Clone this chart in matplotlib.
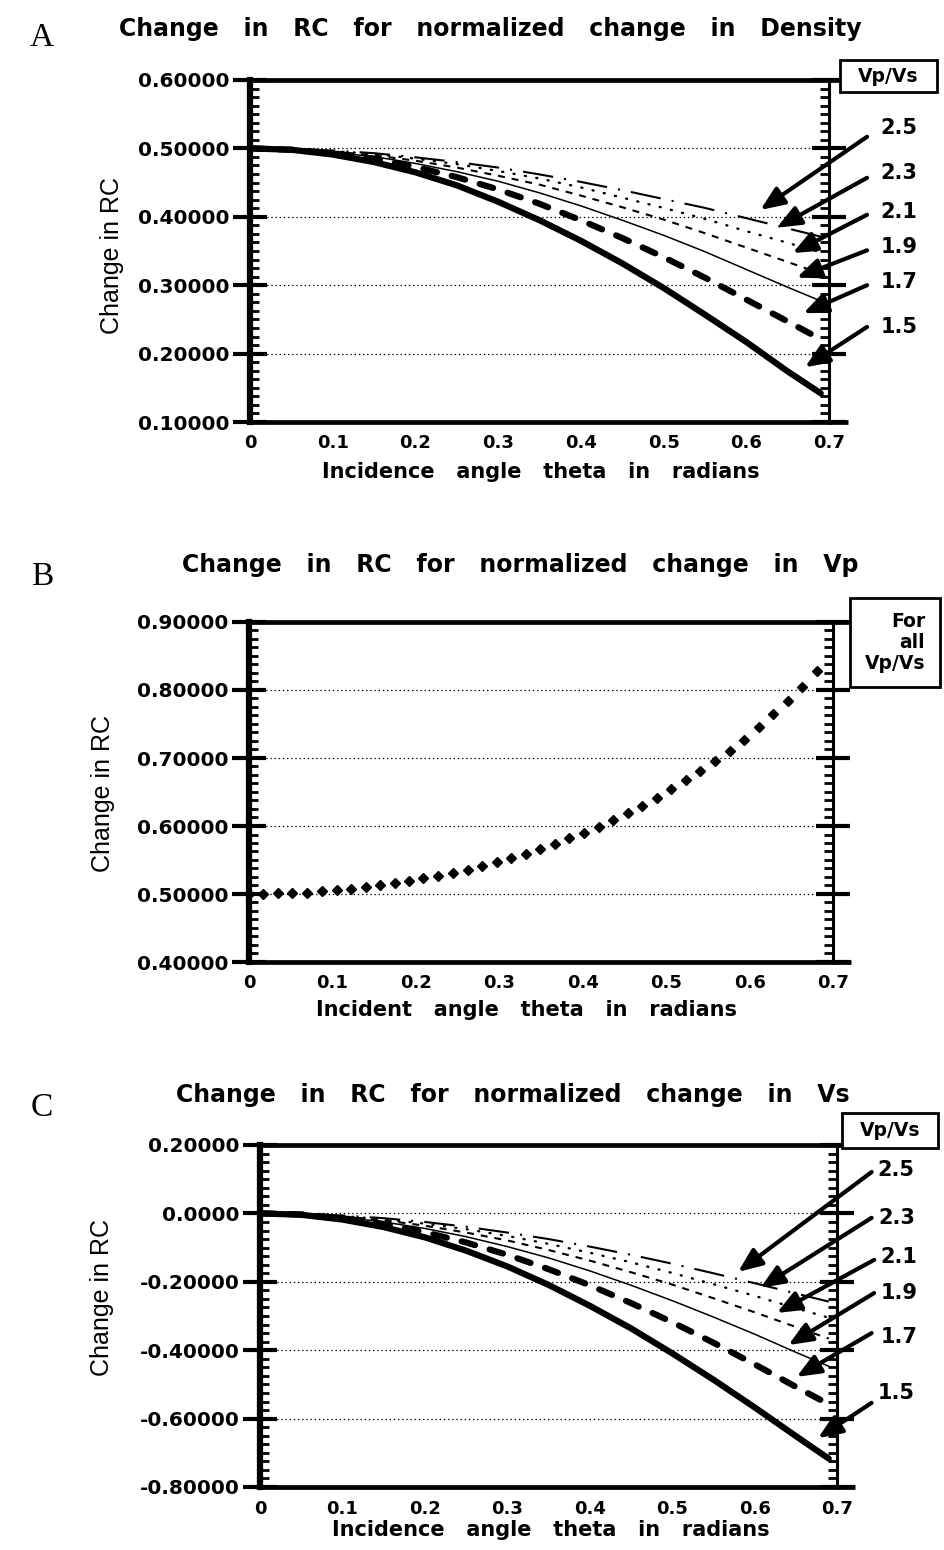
import matplotlib.pyplot as plt
from matplotlib.patches import Rectangle
from matplotlib.ticker import AutoMinorLocator

plt.rcParams['lines.scale_dashes'] = False
plt.rcParams['font.family'] = 'DejaVu Sans'

# incidence angle (radians) for the Vp/Vs family curves
theta = [0.0, 0.05, 0.10, 0.15, 0.20, 0.25, 0.30, 0.35, 0.40, 0.45, 0.50, 0.55, 0.60, 0.65, 0.69]

ratios = ['2.5', '2.3', '2.1', '1.9', '1.7', '1.5']

# A: change in RC for normalized change in density
dens = {
    '2.5': [0.500, 0.499, 0.497, 0.493, 0.487, 0.480, 0.472, 0.462, 0.451, 0.439, 0.426, 0.413, 0.398, 0.383, 0.371],
    '2.3': [0.500, 0.499, 0.496, 0.492, 0.485, 0.477, 0.467, 0.456, 0.443, 0.428, 0.413, 0.397, 0.379, 0.362, 0.348],
    '2.1': [0.500, 0.499, 0.495, 0.490, 0.482, 0.472, 0.460, 0.447, 0.431, 0.414, 0.396, 0.376, 0.355, 0.334, 0.317],
    '1.9': [0.500, 0.499, 0.494, 0.488, 0.478, 0.466, 0.452, 0.435, 0.416, 0.395, 0.373, 0.349, 0.323, 0.297, 0.277],
    '1.7': [0.500, 0.498, 0.493, 0.485, 0.473, 0.458, 0.440, 0.419, 0.395, 0.369, 0.341, 0.311, 0.279, 0.247, 0.221],
    '1.5': [0.500, 0.498, 0.491, 0.480, 0.465, 0.446, 0.422, 0.395, 0.365, 0.332, 0.296, 0.257, 0.217, 0.174, 0.142],
}

# C: change in RC for normalized change in Vs
vs = {
    '2.5': [0.0, -0.002, -0.006, -0.014, -0.025, -0.039, -0.056, -0.075, -0.097, -0.121, -0.147, -0.175, -0.204, -0.234, -0.258],
    '2.3': [0.0, -0.002, -0.008, -0.017, -0.030, -0.046, -0.066, -0.089, -0.115, -0.143, -0.174, -0.207, -0.241, -0.277, -0.305],
    '2.1': [0.0, -0.002, -0.009, -0.020, -0.036, -0.056, -0.079, -0.107, -0.138, -0.172, -0.208, -0.248, -0.289, -0.332, -0.366],
    '1.9': [0.0, -0.003, -0.011, -0.025, -0.044, -0.068, -0.097, -0.130, -0.168, -0.210, -0.255, -0.303, -0.353, -0.406, -0.447],
    '1.7': [0.0, -0.003, -0.014, -0.031, -0.055, -0.085, -0.121, -0.163, -0.210, -0.262, -0.318, -0.378, -0.441, -0.507, -0.558],
    '1.5': [0.0, -0.004, -0.018, -0.040, -0.070, -0.109, -0.155, -0.209, -0.270, -0.336, -0.409, -0.486, -0.567, -0.651, -0.717],
}

# B: change in RC for normalized change in Vp (same for all Vp/Vs), one point per degree
theta_b = [0.000, 0.017, 0.035, 0.052, 0.070, 0.087, 0.105, 0.122, 0.140, 0.157,
           0.175, 0.192, 0.209, 0.227, 0.244, 0.262, 0.279, 0.297, 0.314, 0.332,
           0.349, 0.367, 0.384, 0.401, 0.419, 0.436, 0.454, 0.471, 0.489, 0.506,
           0.524, 0.541, 0.559, 0.576, 0.593, 0.611, 0.628, 0.646, 0.663, 0.681]
vp_b = [0.500, 0.500, 0.501, 0.501, 0.502, 0.504, 0.506, 0.508, 0.510, 0.513,
        0.516, 0.519, 0.523, 0.527, 0.531, 0.536, 0.541, 0.547, 0.553, 0.559,
        0.566, 0.574, 0.582, 0.590, 0.599, 0.609, 0.619, 0.630, 0.641, 0.654,
        0.667, 0.681, 0.695, 0.711, 0.727, 0.745, 0.764, 0.784, 0.805, 0.828]

xticks = [0, 0.1, 0.2, 0.3, 0.4, 0.5, 0.6, 0.7]
xtick_labels = ['0', '0.1', '0.2', '0.3', '0.4', '0.5', '0.6', '0.7']
yticks_a = [0.1, 0.2, 0.3, 0.4, 0.5, 0.6]
ylabels_a = ['0.10000', '0.20000', '0.30000', '0.40000', '0.50000', '0.60000']
yticks_b = [0.4, 0.5, 0.6, 0.7, 0.8, 0.9]
ylabels_b = ['0.40000', '0.50000', '0.60000', '0.70000', '0.80000', '0.90000']
yticks_c = [-0.8, -0.6, -0.4, -0.2, 0.0, 0.2]
ylabels_c = ['-0.80000', '-0.60000', '-0.40000', '-0.20000', '0.0000', '0.20000']

styles = {
    '1.5': dict(lw=4.5, ls='-', solid_capstyle='round'),
    '1.7': dict(lw=4.5, ls=(0, (10, 11)), dash_capstyle='round'),
    '1.9': dict(lw=1.1, ls='-'),
    '2.1': dict(lw=1.5, ls=(0, (5, 5))),
    '2.3': dict(lw=1.7, ls=(0, (0.8, 7.5)), dash_capstyle='round'),
    '2.5': dict(lw=1.5, ls=(0, (22, 8, 1.5, 8))),
}

# label / arrow placement (data coordinates)
lab_a = [(0.785, 0.530), (0.785, 0.464), (0.785, 0.407), (0.785, 0.356), (0.785, 0.305), (0.785, 0.239)]
tail_a = [(0.746, 0.517), (0.746, 0.457), (0.746, 0.403), (0.746, 0.351), (0.746, 0.300), (0.746, 0.239)]
tip_a = [(0.617, 0.410), (0.637, 0.384), (0.656, 0.347), (0.661, 0.311), (0.669, 0.259), (0.671, 0.180)]
lab_c = [(0.772, 0.127), (0.772, -0.013), (0.775, -0.127), (0.775, -0.233), (0.775, -0.361), (0.772, -0.525)]
tail_c = [(0.742, 0.121), (0.742, -0.013), (0.745, -0.136), (0.745, -0.233), (0.742, -0.350), (0.742, -0.554)]
tip_c = [(0.580, -0.171), (0.607, -0.218), (0.627, -0.291), (0.641, -0.385), (0.651, -0.478), (0.677, -0.657)]

W, H = 944, 1550
fig = plt.figure(figsize=(W / 100, H / 100), dpi=100)


def rect(x0, y0, x1, y1):
    return [x0 / W, 1 - y1 / H, (x1 - x0) / W, (y1 - y0) / H]


def frame(ax, yticks, ylabels, nminor, top_end, bottom_end):
    ax.set_xlim(0, 0.7)
    ax.set_ylim(yticks[0], yticks[-1])
    ax.set_xticks(xticks, xtick_labels, fontsize=13, fontweight='bold')
    ax.set_yticks(yticks, ylabels, fontsize=14.5, fontweight='bold')
    ax.yaxis.set_minor_locator(AutoMinorLocator(nminor))
    ax.tick_params(axis='x', length=0, pad=9)
    ax.tick_params(axis='y', which='major', direction='inout', length=25, width=3,
                   left=True, right=True, pad=2)
    ax.tick_params(axis='y', which='minor', direction='in', length=6.5, width=2,
                   left=True, right=True)
    ax.grid(True, axis='y', which='major', color='black', ls=(0, (1, 2)), lw=0.9)
    ax.spines['left'].set_linewidth(4.5)
    ax.spines['top'].set_linewidth(3.4)
    ax.spines['bottom'].set_linewidth(3.4)
    ax.spines['right'].set_linewidth(2.2)
    ax.plot([1, top_end], [1, 1], transform=ax.transAxes, clip_on=False,
            color='black', lw=3.4, solid_capstyle='butt')
    ax.plot([1, bottom_end], [0, 0], transform=ax.transAxes, clip_on=False,
            color='black', lw=3.4, solid_capstyle='butt')


def key_box(x0, y0, x1, y1, text):
    fig.add_artist(Rectangle((x0 / W, 1 - y1 / H), (x1 - x0) / W, (y1 - y0) / H,
                             transform=fig.transFigure, facecolor='white',
                             edgecolor='black', lw=2))
    fig.text((x0 + x1) / 2 / W, 1 - (y0 + y1) / 2 / H, text, ha='center', va='center',
             multialignment='right', fontsize=13.5, fontweight='bold', linespacing=1.15)


def ratio_arrows(ax, labs, tails, tips):
    for r, (lx, ly), (sx, sy), (ex, ey) in zip(ratios, labs, tails, tips):
        ax.text(lx, ly, r, ha='center', va='center', fontsize=15, fontweight='bold')
        ax.annotate('', xy=(ex, ey), xytext=(sx, sy), annotation_clip=False,
                    arrowprops=dict(arrowstyle='-|>,head_length=0.6,head_width=0.25',
                                    mutation_scale=24, lw=3, color='black',
                                    shrinkA=0, shrinkB=0))


ylab_font = dict(family=['Liberation Sans Narrow', 'Liberation Sans'], fontsize=18)
title_font = dict(fontsize=17, fontweight='bold', ha='center', va='center')
xlab_font = dict(fontsize=15, fontweight='bold', ha='center', va='center')
letter_font = dict(family='Liberation Serif', fontsize=24, ha='center', va='center')

# ---- A: density ----
ax_a = fig.add_axes(rect(250, 80, 829, 422))
for r in ratios:
    ax_a.plot(theta, dens[r], color='black', **styles[r])
frame(ax_a, yticks_a, ylabels_a, 8, 1.019, 1.033)
ratio_arrows(ax_a, lab_a, tail_a, tip_a)
key_box(840, 60, 937, 92, 'Vp/Vs')
fig.text(490 / W, 1 - 29 / H, 'Change   in   RC   for   normalized   change   in   Density', **title_font)
fig.text(541 / W, 1 - 472 / H, 'Incidence   angle   theta   in   radians', **xlab_font)
fig.text(112 / W, 1 - 256 / H, 'Change in RC', rotation=90, ha='center', va='center', **ylab_font)
fig.text(42 / W, 1 - 38 / H, 'A', **letter_font)

# ---- B: Vp ----
ax_b = fig.add_axes(rect(249, 622, 833, 962))
ax_b.plot(theta_b, vp_b, ls='none', marker='D', ms=5, color='black')
frame(ax_b, yticks_b, ylabels_b, 8, 1.03, 1.03)
key_box(850, 598, 940, 687, 'For\nall\nVp/Vs')
fig.text(520 / W, 1 - 565 / H, 'Change   in   RC   for   normalized   change   in   Vp', **title_font)
fig.text(526 / W, 1 - 1010 / H, 'Incident   angle   theta   in   radians', **xlab_font)
fig.text(103 / W, 1 - 793 / H, 'Change in RC', rotation=90, ha='center', va='center', **ylab_font)
fig.text(42 / W, 1 - 577 / H, 'B', **letter_font)

# ---- C: Vs ----
ax_c = fig.add_axes(rect(260, 1145, 837, 1487))
for r in ratios:
    ax_c.plot(theta, vs[r], color='black', **styles[r])
frame(ax_c, yticks_c, ylabels_c, 8, 1.009, 1.031)
ratio_arrows(ax_c, lab_c, tail_c, tip_c)
key_box(842, 1113, 938, 1148, 'Vp/Vs')
fig.text(513 / W, 1 - 1095 / H, 'Change   in   RC   for   normalized   change   in   Vs', **title_font)
fig.text(551 / W, 1 - 1530 / H, 'Incidence   angle   theta   in   radians', **xlab_font)
fig.text(102 / W, 1 - 1297 / H, 'Change in RC', rotation=90, ha='center', va='center', **ylab_font)
fig.text(42 / W, 1 - 1108 / H, 'C', **letter_font)

fig.savefig('out.png', dpi=100)
